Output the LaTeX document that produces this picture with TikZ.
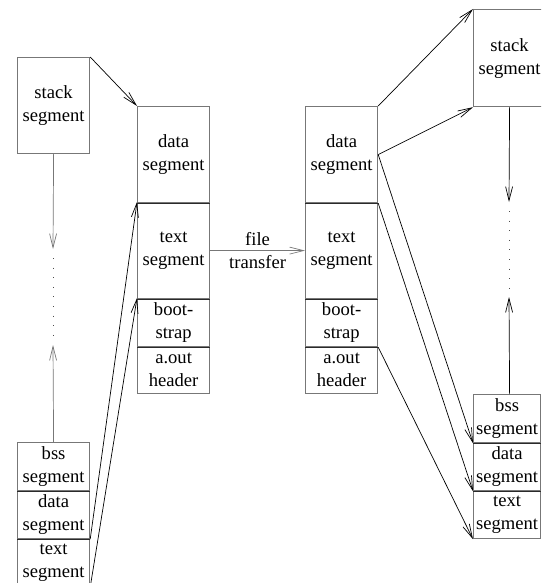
\documentclass[tikz,border=0pt]{standalone}
\usepackage{fontspec}
\setmainfont{Liberation Serif}
\newfontfamily\segfont{Liberation Serif}
\usetikzlibrary{arrows.meta}
\definecolor{boxgray}{HTML}{777777}
\definecolor{divgray}{HTML}{2A2A2A}
\tikzset{
  segtext/.style={font=\segfont\fontsize{18.6}{23}\selectfont},
  seg/.style={draw=boxgray, line width=1.2pt, minimum width=72pt, inner sep=0pt,
    anchor=north west, align=center, segtext},
  divider/.style={draw=divgray, line width=1.3pt},
  conn/.style={draw=black, line width=0.7pt, -{Straight Barb[length=14pt,width=7pt]}},
  dots/.style={draw=black!70, line width=1pt, dash pattern=on 1pt off 8.6pt},
}
\begin{document}
\begin{tikzpicture}[x=1pt,y=-1pt]
\useasboundingbox (0,0) rectangle (541,583);
\clip (0,0) rectangle (541,583);

% left memory image
\node[seg, minimum height=96pt] (stackL) at (17,57) {stack\\segment};
\node[seg, minimum height=48pt] (bssL) at (17,442) {bss\\segment};
\node[seg, minimum height=48pt] (dataL) at (17,490) {data\\segment};
\node[seg, minimum height=48pt] (textL) at (17,538) {text\\segment};

% a.out file (left)
\node[seg, minimum height=96pt] (dataA) at (137,106) {data\\segment};
\node[seg, minimum height=96pt] (textA) at (137,202) {text\\segment};
\node[seg, minimum height=48pt] (bootA) at (137,298) {boot-\\strap};
\node[seg, minimum height=47pt] (hdrA) at (137,346) {a.out\\header};

% a.out file (right)
\node[seg, minimum height=96pt] (dataB) at (305,106) {data\\segment};
\node[seg, minimum height=96pt] (textB) at (305,202) {text\\segment};
\node[seg, minimum height=48pt] (bootB) at (305,298) {boot-\\strap};
\node[seg, minimum height=47pt] (hdrB) at (305,346) {a.out\\header};

% right memory image
\node[seg, minimum height=97pt] (stackR) at (473,9) {stack\\segment};
\node[seg, minimum height=48pt, minimum width=67pt] (bssR) at (473,394) {bss\\segment};
\node[seg, minimum height=48pt, minimum width=67pt] (dataR) at (473,442) {data\\segment};
\node[seg, minimum height=48pt, minimum width=67pt] (textR) at (473,490) {text\\segment};

% dividers
\foreach \n in {bssL,dataL,dataA,textA,bootA,dataB,textB,bootB,bssR,dataR}
  \draw[divider] (\n.south west) -- (\n.south east);

% left vertical growth arrows
\coordinate (lA) at (53,249);
\coordinate (lB) at (53,258);
\coordinate (lC) at (53,338);
\coordinate (lD) at (53,345);
\draw[conn, draw=boxgray] (stackL.south) -- (lA);
\draw[dots] (lB) -- (lC);
\draw[conn, draw=boxgray] (bssL.north -| stackL.south) -- (lD);

% right vertical growth arrows
\coordinate (rA) at (509,202);
\coordinate (rB) at (509,211);
\coordinate (rC) at (509,290);
\coordinate (rD) at (509,297);
\draw[conn] (stackR.south) -- (rA);
\draw[dots] (rB) -- (rC);
\draw[conn] (bssR.north -| stackR.south) -- (rD);

% left mapping
\draw[conn] (stackL.north east) -- (dataA.north west);
\draw[conn] (dataL.south east) -- (textA.north west);
\draw[conn] (textL.south east) -- (bootA.north west);

% file transfer
\draw[conn, draw=boxgray] (textA.east) -- (textB.west)
  node[midway, above=1pt, segtext] (ft1) {file}
  node[midway, below=1pt, segtext] (ft2) {transfer};

% right mapping
\draw[conn] (dataB.north east) -- (stackR.north west);
\draw[conn] (dataB.east) -- (stackR.south west);
\draw[conn] (dataB.east) -- (bssR.south west);
\draw[conn] (dataB.south east) -- (dataR.south west);
\draw[conn] (bootB.south east) -- (textR.south west);
\end{tikzpicture}
\end{document}
